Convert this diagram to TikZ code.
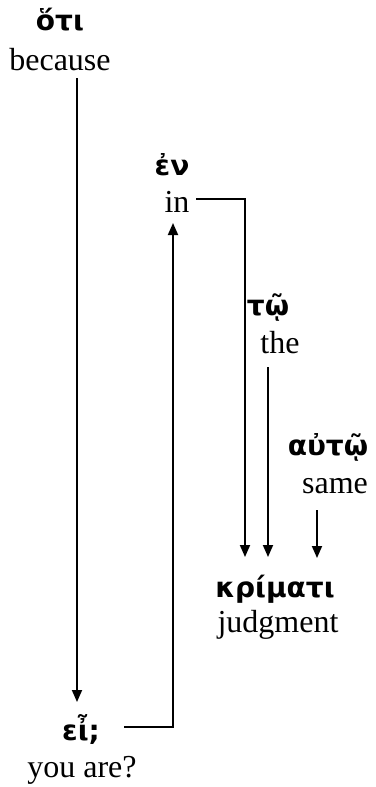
\documentclass[tikz,border=0pt]{standalone}
\usepackage{fontspec}
\setmainfont{Liberation Serif}
\newfontfamily\grkfont{DejaVu Sans}[BoldFont={DejaVu Sans Bold}]
\usetikzlibrary{arrows.meta}
\tikzset{
  grk/.style={inner sep=0pt, anchor=base, font=\grkfont\bfseries\fontsize{28}{32}\selectfont},
  eng/.style={inner sep=0pt, anchor=base, font=\fontsize{32}{38}\selectfont},
  arr/.style={line width=1.8pt, -{Triangle[length=12pt,width=10pt]}}
}

\begin{document}
\begin{tikzpicture}[x=1pt,y=-1pt]
  \useasboundingbox (0,0) rectangle (375,787);
  \node[grk] (hoti) at (60,30) {ὅτι};
  \node[eng] (because) at (60,70) {because};
  \node[grk] (en) at (172,175) {ἐν};
  \node[eng] (inw) at (177,212) {in};
  \node[grk] (tw) at (268,315) {τῷ};
  \node[eng] (the) at (280,353) {the};
  \node[grk] (autw) at (328,455) {αὐτῷ};
  \node[eng] (same) at (335,493) {same};
  \node[grk] (krimati) at (275,597) {κρίματι};
  \node[eng] (judgment) at (278,632) {judgment};
  \node[grk] (ei) at (81,740) {εἶ;};
  \node[eng] (youare) at (82,777) {you are?};

  \draw[arr] ([xshift=17pt,yshift=-8pt]because.base) -- ([xshift=-4pt,yshift=38pt]ei.base);
  \draw[arr] ([xshift=43pt,yshift=13pt]ei.base) -| ([xshift=-4pt,yshift=-11pt]inw.base);
  \draw[arr] ([xshift=19pt,yshift=13pt]inw.base) -| ([xshift=-30pt,yshift=40pt]krimati.base);
  \draw[arr] ([xshift=-12pt,yshift=-14pt]the.base) -- ([xshift=-7pt,yshift=40pt]krimati.base);
  \draw[arr] ([xshift=-18pt,yshift=-17pt]same.base) -- ([xshift=42pt,yshift=39pt]krimati.base);
\end{tikzpicture}
\end{document}
